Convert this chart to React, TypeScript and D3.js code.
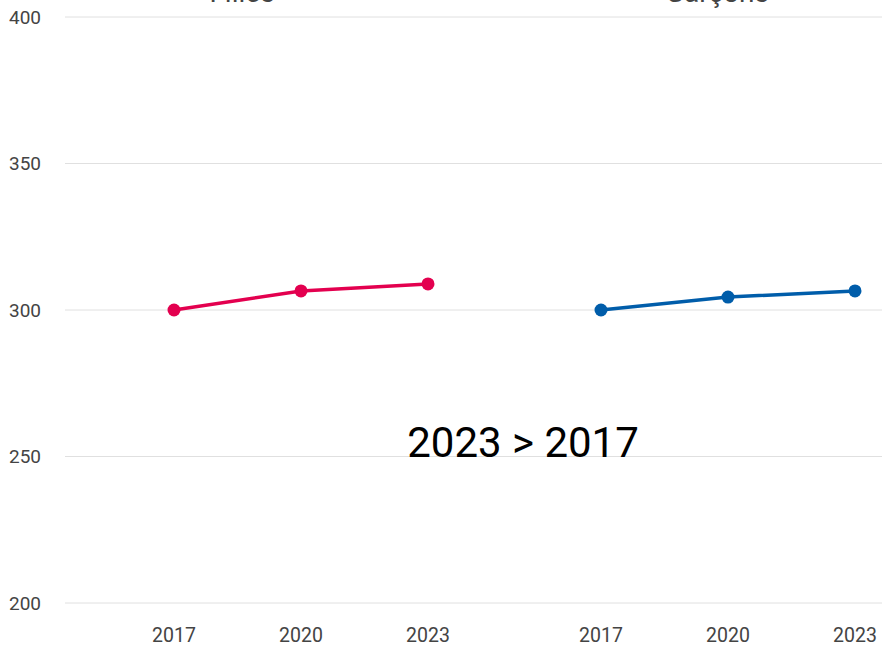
import React from "react";
import * as d3 from "d3";

const years = ["2017", "2020", "2023"];
const panelTitles = ["Filles", "Garçons"];
const seriesA = [300, 306.5, 308.9];
const seriesB = [300, 304.4, 306.5];
const yTicks = [200, 250, 300, 350, 400];
const annotation = "2023 > 2017";

const W = 882;
const H = 646;
const gridLeft = 65;
const panelW = 427;
const titleOffsets = [177, 225];
const colors = ["#E3004F", "#005DAA"];

export default function App() {
  const y = d3.scaleLinear().domain([200, 400]).range([603, 17]);
  const panels = [seriesA, seriesB];
  const line = d3.line<number>();
  return (
    <svg
      width={W}
      height={H}
      style={{ position: "absolute", left: 0, top: 0, fontFamily: "Roboto, sans-serif" }}
    >
      <rect width={W} height={H} fill="#fff" />
      {yTicks.map((t) => (
        <g key={t}>
          <line x1={gridLeft} x2={W} y1={y(t)} y2={y(t)} stroke="#e0e0e0" strokeWidth={1} />
          <text x={9} y={y(t)} dy="0.35em" fontSize={19} fill="#444">
            {t}
          </text>
        </g>
      ))}
      {panels.map((vals, pi) => {
        const p0 = gridLeft + pi * panelW;
        const x = d3.scalePoint<string>().domain(years).range([p0 + 109, p0 + 363]);
        const pts = vals.map((v, i) => [x(years[i])!, y(v)] as [number, number]);
        return (
          <g key={pi}>
            <text x={p0 + titleOffsets[pi]} y={2} textAnchor="middle" fontSize={28} fill="#444">
              {panelTitles[pi]}
            </text>
            <path d={line(pts)!} fill="none" stroke={colors[pi]} strokeWidth={3.5} />
            {pts.map((p, i) => (
              <circle key={i} cx={p[0]} cy={p[1]} r={6.5} fill={colors[pi]} />
            ))}
            {years.map((yr) => (
              <text key={yr} x={x(yr)} y={642} textAnchor="middle" fontSize={19.5} fill="#444">
                {yr}
              </text>
            ))}
          </g>
        );
      })}
      <text x={523} y={457} textAnchor="middle" fontSize={42} fill="#000">
        {annotation}
      </text>
    </svg>
  );
}
